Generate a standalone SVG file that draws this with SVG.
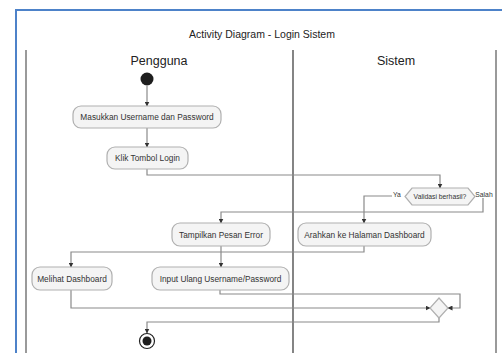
<svg xmlns="http://www.w3.org/2000/svg" width="502" height="353" viewBox="0 0 502 353">
  <defs>
    <marker id="arrow" viewBox="0 0 10 10" refX="9" refY="5" markerWidth="5" markerHeight="5" orient="auto" markerUnits="userSpaceOnUse">
      <path d="M0,0 L10,5 L0,10 z" fill="#333"/>
    </marker>
    <style>
      .frame { fill: none; stroke: #4d82c9; stroke-width: 2; }
      .lane { stroke: #9a9a9a; stroke-width: 2; }
      .lane-mid { stroke: #333; stroke-width: 1.2; }
      .act { fill: #f4f4f4; stroke: #b0b0b0; stroke-width: 1.2; }
      .lbl { font-family: "Liberation Sans", Arial, sans-serif; font-size: 8.3px; fill: #333; text-anchor: middle; dominant-baseline: central; }
      .small { font-size: 6.8px; }
      .lane-title { font-family: "Liberation Sans", Arial, sans-serif; font-size: 12.5px; fill: #222; text-anchor: middle; }
      .title { font-family: "Liberation Sans", Arial, sans-serif; font-size: 10.5px; fill: #222; text-anchor: middle; }
      .conn-a { fill: none; stroke: #8a8a8a; stroke-width: 1.2; marker-end: url(#arrow); }
    </style>
  </defs>

  <rect width="502" height="353" fill="#ffffff"/>

  <!-- outer frame -->
  <path class="frame" d="M16,353 V10 H503"/>

  <!-- title -->
  <text class="title" x="262" y="38">Activity Diagram - Login Sistem</text>

  <!-- swimlanes -->
  <g id="lanes">
    <line class="lane" x1="26" y1="50" x2="26" y2="353"/>
    <line class="lane-mid" x1="293" y1="50" x2="293" y2="353"/>
    <line class="lane" x1="496" y1="50" x2="496" y2="353"/>
    <text class="lane-title" x="159" y="65">Pengguna</text>
    <text class="lane-title" x="396" y="65">Sistem</text>
  </g>

  <!-- connectors -->
  <g id="connectors">
    <path class="conn-a" d="M147,86 V106"/>
    <path class="conn-a" d="M147,128 V147"/>
    <path class="conn-a" d="M147,169 V175 H440 V188"/>
    <path class="conn-a" d="M392,196 H364 V223"/>
    <path class="conn-a" d="M483,198 V212 H221 V223"/>
    <path class="conn-a" d="M364,246 V252 H71 V267"/>
    <path class="conn-a" d="M221,246 V267"/>
    <path class="conn-a" d="M71,290 V308 H430"/>
    <path class="conn-a" d="M220,290 V294 H460 V308 H448"/>
    <path class="conn-a" d="M439,318 V322 H147 V333"/>
    <text class="lbl small" x="397" y="194">Ya</text>
    <text class="lbl small" x="484" y="194">Salah</text>
  </g>

  <!-- start -->
  <g id="start">
    <circle cx="147" cy="79" r="6.5" fill="#1e1e1e"/>
  </g>

  <g id="masukkan">
    <rect class="act" x="73" y="106" width="148" height="22" rx="8"/>
    <text class="lbl" x="147" y="117">Masukkan Username dan Password</text>
  </g>

  <g id="klik-login">
    <rect class="act" x="107" y="147" width="81" height="22" rx="8"/>
    <text class="lbl" x="147.5" y="158">Klik Tombol Login</text>
  </g>

  <g id="validasi">
    <polygon class="act" points="412,188 468,188 475,196.5 468,205 412,205 405,196.5"/>
    <text class="lbl small" x="440" y="196.5">Validasi berhasil?</text>
  </g>

  <g id="arahkan">
    <rect class="act" x="298" y="223" width="133" height="23" rx="8"/>
    <text class="lbl" x="364.5" y="234.5">Arahkan ke Halaman Dashboard</text>
  </g>

  <g id="pesan-error">
    <rect class="act" x="172" y="223" width="98" height="23" rx="8"/>
    <text class="lbl" x="221" y="234.5">Tampilkan Pesan Error</text>
  </g>

  <g id="melihat">
    <rect class="act" x="32" y="267" width="80" height="23" rx="8"/>
    <text class="lbl" x="72" y="278.5">Melihat Dashboard</text>
  </g>

  <g id="input-ulang">
    <rect class="act" x="152" y="267" width="137" height="23" rx="8"/>
    <text class="lbl" x="220.5" y="278.5">Input Ulang Username/Password</text>
  </g>

  <g id="merge">
    <polygon class="act" points="439,298 448,308 439,318 430,308"/>
  </g>

  <!-- end -->
  <g id="end">
    <circle cx="147" cy="341" r="7.5" fill="#ffffff" stroke="#222" stroke-width="1.2"/>
    <circle cx="147" cy="341" r="4.5" fill="#1e1e1e"/>
  </g>
</svg>
